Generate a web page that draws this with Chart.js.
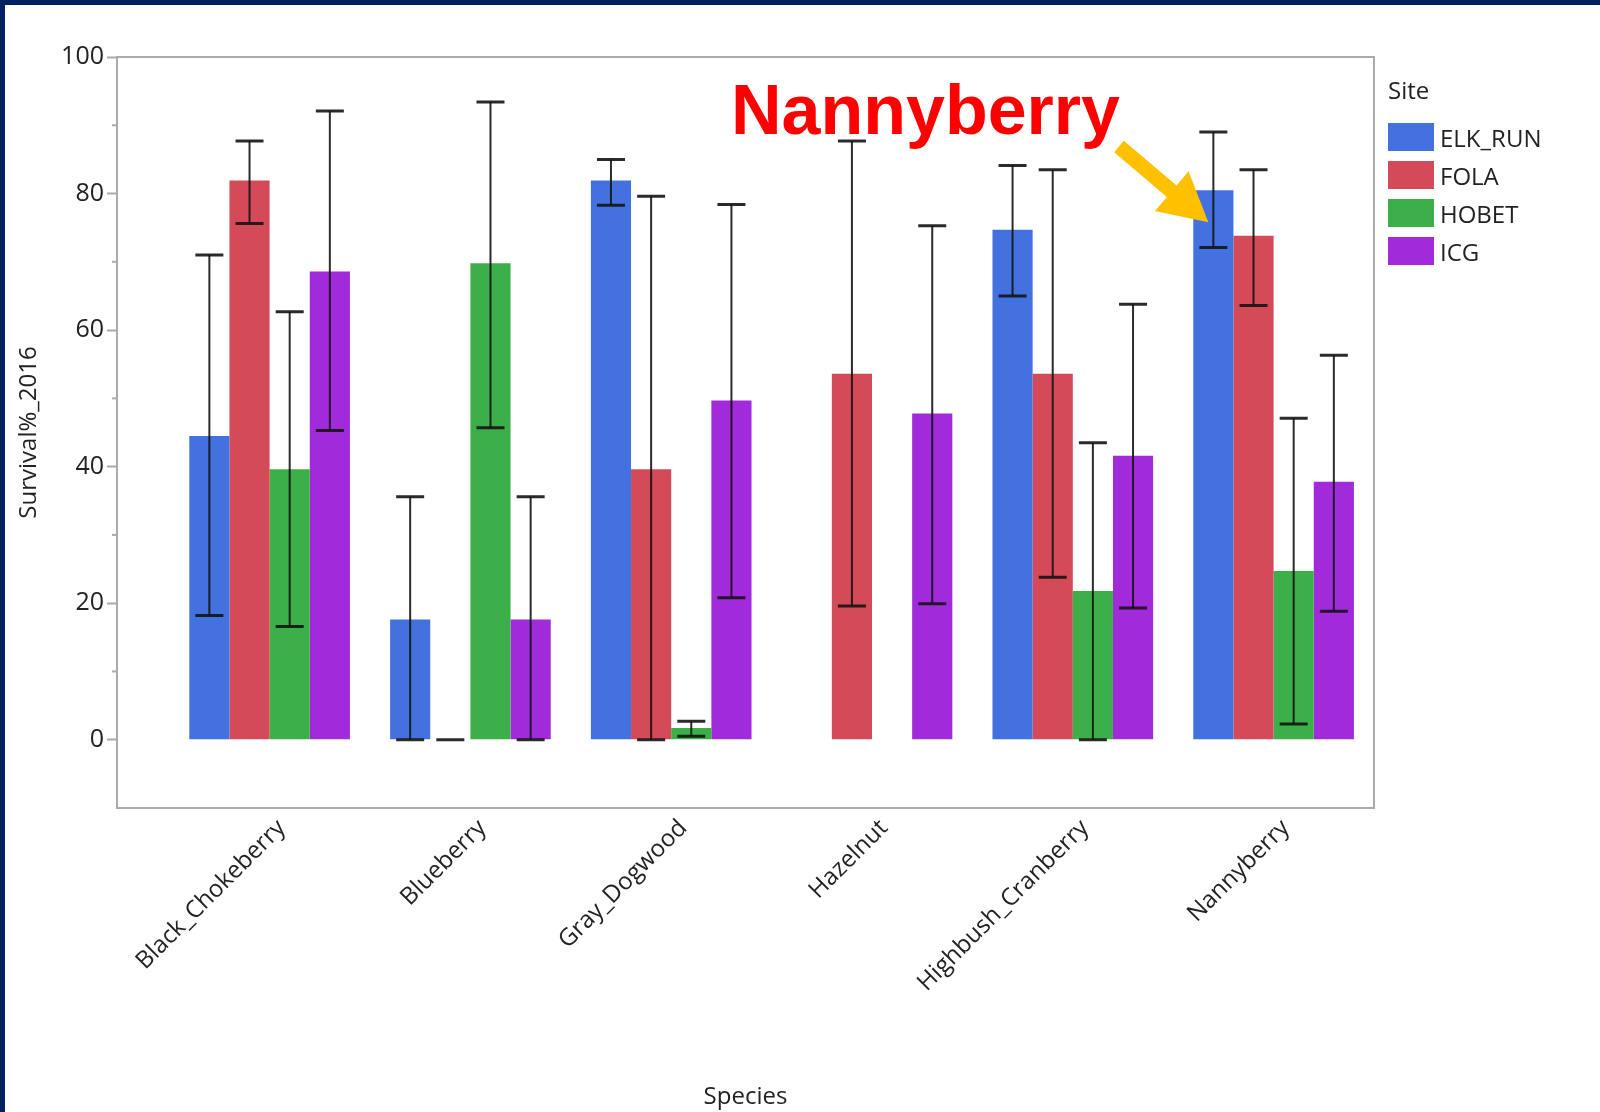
<!DOCTYPE html>
<html>
<head>
<meta charset="utf-8">
<title>Survival% 2016 by Species and Site</title>
<script src="https://cdn.jsdelivr.net/npm/chart.js@4.4.1/dist/chart.umd.min.js"></script>
<style>
  body { margin: 0; width: 1600px; height: 1112px; overflow: hidden; position: relative; background: #fff; font-family: 'Open Sans', sans-serif; }
  #chartBox { position: absolute; left: 0; top: 0; width: 1600px; height: 1112px; }
  .frame { position: absolute; background: #002060; }
  #legend { position: absolute; left: 1388px; top: 70px; color: #222; font-size: 24px; }
  #legend .title { height: 40px; line-height: 40px; margin-bottom: 13px; }
  #legend .item { height: 28px; margin-bottom: 10px; display: flex; align-items: center; }
  #legend .sw { width: 46px; height: 28px; margin-right: 6px; }
  #note { position: absolute; left: 731px; top: 75px; font: bold 70px 'Liberation Sans', sans-serif; line-height: 70px; color: #ff0000; }
</style>
</head>
<body>
<div id="chartBox"><canvas id="survivalChart" width="1600" height="1112"></canvas></div>
<div class="frame" style="left:0;top:0;width:1600px;height:5px"></div>
<div class="frame" style="left:0;top:0;width:5px;height:1112px"></div>
<div id="legend"></div>
<div id="note">Nannyberry</div>
<script>
// categories and sites
const categories = ['Black_Chokeberry', 'Blueberry', 'Gray_Dogwood', 'Hazelnut', 'Highbush_Cranberry', 'Nannyberry'];
const sites = ['ELK_RUN', 'FOLA', 'HOBET', 'ICG'];
const siteColors = ['#4372e0', '#d44a58', '#3bb048', '#a12bda'];

// mean survival % per site (null = no data)
const elkRun = [44.5, 17.6, 81.9, null, 74.7, 80.5];
const fola   = [81.9, 0, 39.6, 53.6, 53.6, 73.8];
const hobet  = [39.6, 69.8, 1.7, null, 21.8, 24.7];
const icg    = [68.6, 17.6, 49.7, 47.8, 41.6, 37.8];

// error bar ends
const elkRunLow  = [18.2, 0, 78.3, null, 65.0, 72.1];
const elkRunHigh = [71.0, 35.6, 85.0, null, 84.1, 89.0];
const folaLow    = [75.6, 0, 0, 19.6, 23.8, 63.6];
const folaHigh   = [87.7, 0, 79.6, 87.7, 83.5, 83.5];
const hobetLow   = [16.6, 45.7, 0.5, null, 0, 2.3];
const hobetHigh  = [62.7, 93.4, 2.7, null, 43.5, 47.1];
const icgLow     = [45.3, 0, 20.8, 19.9, 19.3, 18.8];
const icgHigh    = [92.1, 35.6, 78.4, 75.3, 63.8, 56.3];

const yTicks = [0, 20, 40, 60, 80, 100];
const yMinorTicks = [10, 30, 50, 70, 90];

// annotation arrow, in data units (category index, survival %)
const arrowFrom = [4.23, 86.9];
const arrowTo = [4.675, 75.8];

const seriesValues = [elkRun, fola, hobet, icg];
const seriesLow = [elkRunLow, folaLow, hobetLow, icgLow];
const seriesHigh = [elkRunHigh, folaHigh, hobetHigh, icgHigh];

// html legend
const legendEl = document.getElementById('legend');
legendEl.innerHTML = '<div class="title">Site</div>' + sites.map((s, i) =>
  '<div class="item"><span class="sw" style="background:' + siteColors[i] + '"></span>' + s + '</div>').join('');

const axisGray = '#ababab';
const textColor = '#222';

const errorBars = {
  id: 'errorBars',
  afterDatasetsDraw(chart) {
    const ctx = chart.ctx;
    const y = chart.scales.y;
    ctx.save();
    ctx.strokeStyle = 'rgba(20,20,20,0.9)';
    chart.data.datasets.forEach((ds, i) => {
      const meta = chart.getDatasetMeta(i);
      meta.data.forEach((bar, j) => {
        const lo = seriesLow[i][j], hi = seriesHigh[i][j];
        if (lo == null || hi == null) return;
        const yLo = y.getPixelForValue(lo), yHi = y.getPixelForValue(hi);
        ctx.lineWidth = 2;
        ctx.beginPath();
        ctx.moveTo(bar.x, yLo);
        ctx.lineTo(bar.x, yHi);
        ctx.stroke();
        ctx.lineWidth = 3;
        ctx.beginPath();
        ctx.moveTo(bar.x - 14, yLo); ctx.lineTo(bar.x + 14, yLo);
        ctx.moveTo(bar.x - 14, yHi); ctx.lineTo(bar.x + 14, yHi);
        ctx.stroke();
      });
    });
    ctx.restore();
  }
};

const frameAndArrow = {
  id: 'frameAndArrow',
  afterDraw(chart) {
    const ctx = chart.ctx;
    const a = chart.chartArea;
    const x = chart.scales.x, y = chart.scales.y;
    ctx.save();
    // top and right border of the plot
    ctx.strokeStyle = axisGray;
    ctx.lineWidth = 2;
    ctx.beginPath();
    ctx.moveTo(a.left, a.top);
    ctx.lineTo(a.right, a.top);
    ctx.lineTo(a.right, a.bottom);
    ctx.stroke();
    // minor ticks
    yMinorTicks.forEach(v => {
      const py = y.getPixelForValue(v);
      ctx.beginPath();
      ctx.moveTo(a.left - 5, py);
      ctx.lineTo(a.left, py);
      ctx.stroke();
    });
    // arrow
    const tx = x.getPixelForValue(arrowFrom[0]), ty = y.getPixelForValue(arrowFrom[1]);
    const hx = x.getPixelForValue(arrowTo[0]), hy = y.getPixelForValue(arrowTo[1]);
    const len = Math.hypot(hx - tx, hy - ty);
    const ux = (hx - tx) / len, uy = (hy - ty) / len;
    const nx = -uy, ny = ux;
    const w = 7.5, hw = 26, hl = 48;
    const bx = hx - ux * hl, by = hy - uy * hl;
    ctx.fillStyle = '#ffc000';
    ctx.beginPath();
    ctx.moveTo(tx + nx * w, ty + ny * w);
    ctx.lineTo(bx + nx * w, by + ny * w);
    ctx.lineTo(bx + nx * hw, by + ny * hw);
    ctx.lineTo(hx, hy);
    ctx.lineTo(bx - nx * hw, by - ny * hw);
    ctx.lineTo(bx - nx * w, by - ny * w);
    ctx.lineTo(tx - nx * w, ty - ny * w);
    ctx.closePath();
    ctx.fill();
    ctx.restore();
  }
};

const ctx = document.getElementById('survivalChart').getContext('2d');
new Chart(ctx, {
  type: 'bar',
  data: {
    datasets: sites.map((s, i) => ({
      label: s,
      data: seriesValues[i].map((v, j) => ({ x: j, y: v })),
      backgroundColor: siteColors[i],
      borderWidth: 0,
      categoryPercentage: 0.8,
      barPercentage: 1.0
    }))
  },
  options: {
    responsive: false,
    animation: false,
    layout: { padding: { top: 57, right: 226, bottom: 0, left: 0 } },
    plugins: {
      legend: { display: false },
      tooltip: { enabled: false }
    },
    scales: {
      x: {
        type: 'linear',
        min: -0.76,
        max: 5.5,
        offset: false,
        afterBuildTicks: s => { s.ticks = categories.map((c, i) => ({ value: i })); },
        afterFit: s => { s.height = 304; },
        grid: { drawOnChartArea: false, drawTicks: false },
        border: { color: axisGray, width: 2 },
        ticks: {
          autoSkip: false,
          minRotation: 45,
          maxRotation: 45,
          padding: 6,
          labelOffset: 12,
          color: textColor,
          font: { family: 'Open Sans', size: 24 },
          callback: v => categories[v] ?? ''
        },
        title: {
          display: true,
          text: 'Species',
          color: textColor,
          font: { family: 'Open Sans', size: 24 },
          padding: { top: 0, bottom: 0 }
        }
      },
      y: {
        min: -10,
        max: 100,
        afterFit: s => { s.width = 117; },
        afterBuildTicks: s => { s.ticks = yTicks.map(v => ({ value: v })); },
        grid: { drawOnChartArea: false, tickLength: 10, tickWidth: 2, tickColor: axisGray },
        border: { color: axisGray, width: 2 },
        ticks: {
          autoSkip: false,
          padding: 3,
          color: textColor,
          font: { family: 'Open Sans', size: 25 }
        },
        title: {
          display: true,
          text: 'Survival%_2016',
          color: textColor,
          font: { family: 'Open Sans', size: 24 },
          padding: { top: 15, bottom: 0 }
        }
      }
    }
  },
  plugins: [errorBars, frameAndArrow]
});
</script>
</body>
</html>
